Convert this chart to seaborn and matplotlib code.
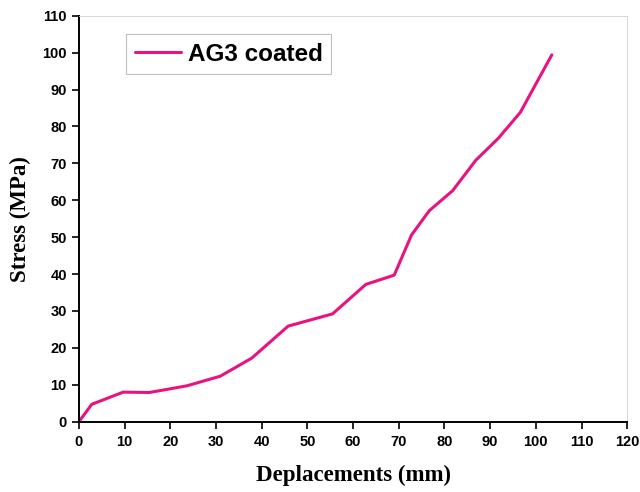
import matplotlib
matplotlib.use("Agg")
import matplotlib.pyplot as plt
import seaborn as sns
import pandas as pd

# displacement (mm) and stress (MPa)
displacement = [0, 2.8, 9.7, 15.4, 23.6, 30.9, 37.8, 45.8, 55.5, 62.8, 69.0,
                72.8, 76.7, 81.8, 86.9, 91.8, 96.6, 103.5]
stress = [0, 4.7, 8.0, 7.9, 9.7, 12.3, 17.2, 25.9, 29.2, 37.2, 39.7,
          50.6, 57.2, 62.6, 70.9, 76.8, 83.8, 99.4]
series_name = "AG3 coated"

x_ticks = list(range(0, 121, 10))
y_ticks = list(range(0, 111, 10))

df = pd.DataFrame({"Deplacements": displacement, "Stress": stress, "sample": series_name})

sns.set_style("ticks")
plt.rcParams["font.family"] = ["Liberation Sans", "DejaVu Sans"]
plt.rcParams["text.color"] = "black"

fig = plt.figure(figsize=(6.4, 4.92), dpi=100)
ax = fig.add_axes([0.1234, 0.143, 0.8566, 0.825])

sns.lineplot(data=df, x="Deplacements", y="Stress", hue="sample",
             palette=["#E8137E"], sort=False, estimator=None,
             linewidth=2.2, ax=ax)

ax.set_xlim(0, 120)
ax.set_ylim(0, 110)
ax.set_xticks(x_ticks)
ax.set_yticks(y_ticks)
ax.tick_params(direction="out", length=4.8, width=1.2, labelsize=10.5, colors="black")
ax.tick_params(axis="x", pad=5)
ax.tick_params(axis="y", pad=4)
for lbl in ax.get_xticklabels() + ax.get_yticklabels():
    lbl.set_fontweight("bold")

for side in ["left", "bottom"]:
    ax.spines[side].set_linewidth(1.4)
    ax.spines[side].set_color("black")
for side in ["top", "right"]:
    ax.spines[side].set_linewidth(0.6)
    ax.spines[side].set_color("#d0d0d0")

ax.set_xlabel("Deplacements (mm)", fontsize=16.5, fontweight="bold",
              family="Liberation Serif", color="black")
ax.set_ylabel("Stress (MPa)", fontsize=16.5, fontweight="bold",
              family="Liberation Serif", color="black")
ax.xaxis.set_label_coords(0.5, -0.107)
ax.yaxis.set_label_coords(-0.088, 0.5)

leg = ax.legend(loc="upper left", bbox_to_anchor=(0.086, 0.955), borderaxespad=0,
                frameon=True, fancybox=False, edgecolor="#b0b0b0",
                prop={"size": 17.5, "weight": "bold"},
                handlelength=1.9, borderpad=0.35, handletextpad=0.3)
leg.get_frame().set_linewidth(0.8)
for line in leg.get_lines():
    line.set_linewidth(2.2)
for txt in leg.get_texts():
    txt.set_color("black")

fig.savefig("out.png", dpi=100, facecolor="white")
